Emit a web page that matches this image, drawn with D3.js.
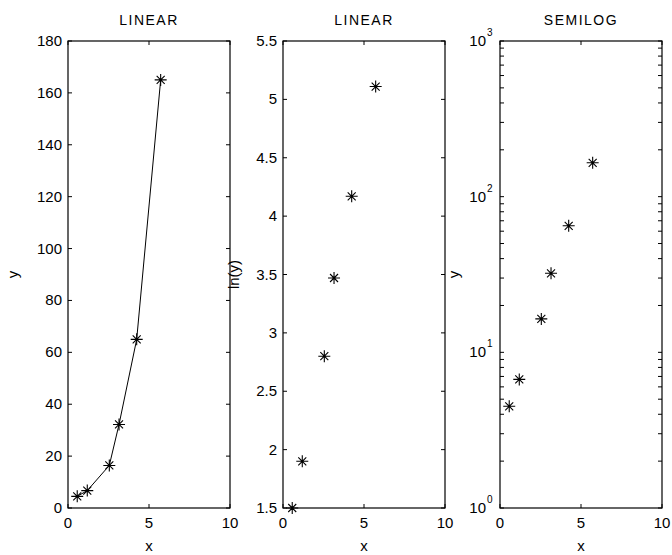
<!DOCTYPE html>
<html>
<head>
<meta charset="utf-8">
<script src="https://cdn.jsdelivr.net/npm/d3@7"></script>
<style>
  body { margin: 0; background: #fff; }
  text { font-family: "Liberation Sans", Arial, sans-serif; fill: #000; }
</style>
</head>
<body>
<svg class="d3" width="672" height="555"></svg>
<script>
const width = 672
const height = 555

// data
const xVals = [0.57, 1.19, 2.55, 3.15, 4.24, 5.72]
const yVals = [4.5, 6.7, 16.4, 32.2, 65, 165]
const lnYVals = [1.50, 1.90, 2.80, 3.47, 4.17, 5.11]

const titles = ["LINEAR", "LINEAR", "SEMILOG"]
const yLabels = ["y", "ln(y)", "y"]
const xTicks = [0, 5, 10]
const yTicks1 = [0, 20, 40, 60, 80, 100, 120, 140, 160, 180]
const yTicks2 = [1.5, 2, 2.5, 3, 3.5, 4, 4.5, 5, 5.5]
const logMajor = [1, 10, 100, 1000]

const plotTop = 41, plotBottom = 508
const fs = 15
const panels = [
    { left: 68, right: 230, labelX: 14 },
    { left: 283, right: 445, labelX: 235 },
    { left: 500, right: 662, labelX: 455 },
]

const svg = d3.select('svg.d3')
    .attr("viewBox", [0, 0, width, height])

// little asterisk like matlab '*'
function star(x, y) {
    const a = 6, b = 4
    return `M${x - a},${y}L${x + a},${y}M${x},${y - a}L${x},${y + a}` +
        `M${x - b},${y - b}L${x + b},${y + b}M${x - b},${y + b}L${x + b},${y - b}`
}

function drawPanel(i, yScale, yTickVals, yFmt, yData, withLine, minorTicks) {
    const p = panels[i]
    const x = d3.scaleLinear().domain([0, 10]).range([p.left, p.right])
    const g = svg.append("g")

    // box
    g.append("rect")
        .attr("x", p.left).attr("y", plotTop)
        .attr("width", p.right - p.left).attr("height", plotBottom - plotTop)
        .attr("fill", "none").attr("stroke", "#000").attr("stroke-width", 1.2)

    const tl = 4
    // x ticks, bottom and top, pointing inward
    xTicks.forEach(t => {
        g.append("line").attr("x1", x(t)).attr("x2", x(t))
            .attr("y1", plotBottom).attr("y2", plotBottom - tl).attr("stroke", "#000")
        g.append("line").attr("x1", x(t)).attr("x2", x(t))
            .attr("y1", plotTop).attr("y2", plotTop + tl).attr("stroke", "#000")
        g.append("text").attr("x", x(t)).attr("y", 528)
            .attr("text-anchor", "middle").attr("font-size", fs).text(t)
    })

    // y ticks both sides
    const allY = yTickVals.concat(minorTicks || [])
    allY.forEach(t => {
        g.append("line").attr("x1", p.left).attr("x2", p.left + tl)
            .attr("y1", yScale(t)).attr("y2", yScale(t)).attr("stroke", "#000")
        g.append("line").attr("x1", p.right).attr("x2", p.right - tl)
            .attr("y1", yScale(t)).attr("y2", yScale(t)).attr("stroke", "#000")
    })
    yTickVals.forEach(t => yFmt(g, p.left - 6, yScale(t), t))

    // title and axis labels
    g.append("text").attr("x", (p.left + p.right) / 2).attr("y", 25)
        .attr("text-anchor", "middle").attr("font-size", 14)
        .attr("letter-spacing", 1.5).text(titles[i])
    g.append("text").attr("x", (p.left + p.right) / 2).attr("y", 551)
        .attr("text-anchor", "middle").attr("font-size", fs).text("x")
    g.append("text")
        .attr("transform", `translate(${p.labelX + 4},${(plotTop + plotBottom) / 2}) rotate(-90)`)
        .attr("text-anchor", "middle").attr("font-size", fs).text(yLabels[i])

    const pts = xVals.map((v, k) => [x(v), yScale(yData[k])])
    if (withLine) {
        g.append("path")
            .attr("d", d3.line()(pts))
            .attr("fill", "none").attr("stroke", "#000").attr("stroke-width", 1)
    }
    g.append("g").selectAll("path")
        .data(pts)
        .join("path")
        .attr("d", d => star(d[0], d[1]))
        .attr("stroke", "#000").attr("stroke-width", 1.1)
}

function plainLabel(g, x, y, t) {
    g.append("text").attr("x", x).attr("y", y + 5)
        .attr("text-anchor", "end").attr("font-size", fs).text(t)
}

function powLabel(g, x, y, t) {
    const e = Math.round(Math.log10(t))
    g.append("text").attr("x", x - 8).attr("y", y + 5)
        .attr("text-anchor", "end").attr("font-size", fs).text("10")
    g.append("text").attr("x", x - 7).attr("y", y - 5)
        .attr("font-size", 10).text(e)
}

const y1 = d3.scaleLinear().domain([0, 180]).range([plotBottom, plotTop])
drawPanel(0, y1, yTicks1, plainLabel, yVals, true)

const y2 = d3.scaleLinear().domain([1.5, 5.5]).range([plotBottom, plotTop])
drawPanel(1, y2, yTicks2, plainLabel, lnYVals, false)

const y3 = d3.scaleLog().domain([1, 1000]).range([plotBottom, plotTop])
const minor = []
logMajor.slice(0, 3).forEach(m => {
    for (let k = 2; k <= 9; k++) minor.push(m * k)
})
drawPanel(2, y3, logMajor, powLabel, yVals, false, minor)
</script>
</body>
</html>
